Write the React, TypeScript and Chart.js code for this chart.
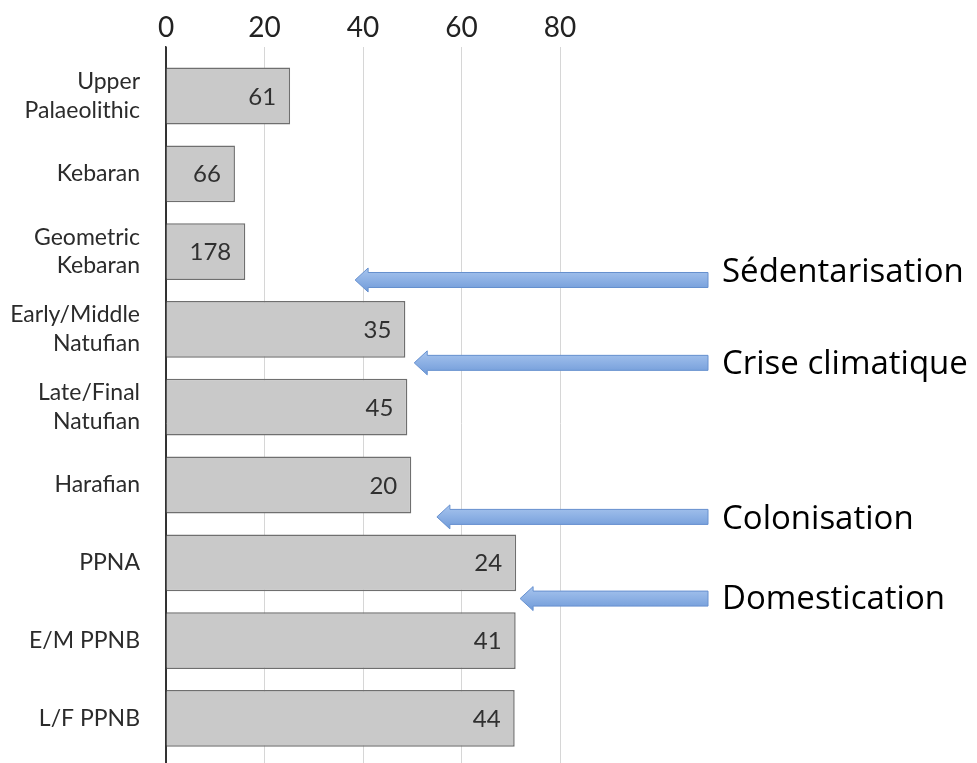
import React, { useEffect, useRef } from "react";
import { Chart, registerables } from "chart.js";

Chart.register(...registerables);

// ---- data ----
const categories: string[][] = [
  ["Upper", "Palaeolithic"],
  ["Kebaran"],
  ["Geometric", "Kebaran"],
  ["Early/Middle", "Natufian"],
  ["Late/Final", "Natufian"],
  ["Harafian"],
  ["PPNA"],
  ["E/M PPNB"],
  ["L/F PPNB"],
];
const values = [25.2, 14.0, 16.1, 48.6, 49.0, 49.8, 71.1, 71.0, 70.8];
const sampleSizes = ["61", "66", "178", "35", "45", "20", "24", "41", "44"];
const xTicks = [0, 20, 40, 60, 80];

const annotationLabels = ["Sédentarisation", "Crise climatique", "Colonisation", "Domestication"];
const arrowTipValues = [38.4, 50.4, 55.0, 71.9];
const arrowRows = [2.365, 3.43, 5.41, 6.46];
const labelRows = [2.243, 3.419, 5.418, 6.446];

// ---- styles ----
const LEFT_FONT = "Lato, 'DejaVu Sans', sans-serif";
const ANNOT_FONT = "'Open Sans', 'DejaVu Sans', sans-serif";
const CANVAS_W = 977;
const CANVAS_H = 800;
const PLOT_TOP = 47;
const PLOT_LEFT = 166;
const PLOT_RIGHT = 560;
const ROW_PX = 77.8;
const FIRST_ROW_PX = 96;
const Y_MIN = -(FIRST_ROW_PX - PLOT_TOP) / ROW_PX;
const Y_MAX = Y_MIN + (CANVAS_H - PLOT_TOP) / ROW_PX;

const barLabelPlugin = {
  id: "barLabels",
  afterDatasetsDraw(chart: any) {
    const ctx = chart.ctx;
    const meta = chart.getDatasetMeta(0);
    ctx.save();
    ctx.font = `24px ${LEFT_FONT}`;
    ctx.fillStyle = "#303030";
    ctx.textAlign = "right";
    ctx.textBaseline = "alphabetic";
    meta.data.forEach((bar: any, i: number) => {
      ctx.fillText(sampleSizes[i], bar.x - 14, bar.y + 8.6);
    });
    ctx.restore();
  },
};

function drawArrow(ctx: CanvasRenderingContext2D, tipX: number, tailX: number, cy: number) {
  const shaftH = 15;
  const headH = 24;
  const headL = 13;
  ctx.beginPath();
  ctx.moveTo(tipX, cy);
  ctx.lineTo(tipX + headL, cy - headH / 2);
  ctx.lineTo(tipX + headL, cy - shaftH / 2);
  ctx.lineTo(tailX, cy - shaftH / 2);
  ctx.lineTo(tailX, cy + shaftH / 2);
  ctx.lineTo(tipX + headL, cy + shaftH / 2);
  ctx.lineTo(tipX + headL, cy + headH / 2);
  ctx.closePath();
  const g = ctx.createLinearGradient(0, cy - headH / 2, 0, cy + headH / 2);
  g.addColorStop(0, "#a8c5ee");
  g.addColorStop(0.5, "#8cb0e4");
  g.addColorStop(1, "#6f9ad8");
  ctx.fillStyle = g;
  ctx.fill();
  ctx.lineWidth = 1;
  ctx.strokeStyle = "#6690cf";
  ctx.stroke();
}

const annotationPlugin = {
  id: "annotations",
  afterDraw(chart: any) {
    const ctx = chart.ctx as CanvasRenderingContext2D;
    const xs = chart.scales.x;
    const ys = chart.scales.y;
    ctx.save();
    annotationLabels.forEach((label, i) => {
      const tip = xs.getPixelForValue(arrowTipValues[i]);
      const cy = ys.getPixelForValue(arrowRows[i]);
      drawArrow(ctx, tip, 708, cy);
      const ty = ys.getPixelForValue(labelRows[i]);
      ctx.font = `33px ${ANNOT_FONT}`;
      ctx.fillStyle = "#000000";
      ctx.textAlign = "left";
      ctx.textBaseline = "alphabetic";
      ctx.fillText(label, 722, ty + 0.357 * 33);
    });
    ctx.restore();
  },
};

export default function App() {
  const ref = useRef<HTMLCanvasElement | null>(null);

  useEffect(() => {
    if (!ref.current) return;
    const chart = new Chart(ref.current, {
      type: "bar",
      data: {
        datasets: [
          {
            data: values.map((v, i) => ({ x: v, y: i })),
            backgroundColor: "#c9c9c9",
            borderColor: "#6f6f6f",
            borderWidth: 1.5,
            categoryPercentage: 1,
            barPercentage: 0.73,
          },
        ],
      },
      options: {
        indexAxis: "y",
        responsive: false,
        animation: false,
        devicePixelRatio: 1,
        layout: { padding: { left: 0, top: 0, bottom: 0, right: CANVAS_W - PLOT_RIGHT } },
        plugins: {
          legend: { display: false },
          tooltip: { enabled: false },
          title: { display: false },
        },
        scales: {
          x: {
            type: "linear",
            position: "top",
            min: 0,
            max: 80,
            offset: false,
            afterFit: (s: any) => {
              s.height = PLOT_TOP;
              s.paddingLeft = 0;
              s.paddingRight = 0;
            },
            afterBuildTicks: (s: any) => {
              s.ticks = xTicks.map((v) => ({ value: v }));
            },
            ticks: {
              font: { family: LEFT_FONT, size: 28 },
              color: "#222222",
              padding: 2,
            },
            grid: {
              color: (c: any) => (c.tick && c.tick.value === 0 ? "#333333" : "#d6d6d6"),
              lineWidth: 1,
              drawTicks: false,
              offset: false,
            },
            border: { display: false },
          },
          y: {
            type: "linear",
            reverse: true,
            min: Y_MIN,
            max: Y_MAX,
            offset: false,
            afterFit: (s: any) => {
              s.width = PLOT_LEFT;
              s.paddingTop = 0;
              s.paddingBottom = 0;
            },
            afterBuildTicks: (s: any) => {
              s.ticks = categories.map((_, i) => ({ value: i }));
            },
            ticks: {
              font: { family: LEFT_FONT, size: 23, lineHeight: 1.25 },
              color: "#2b2b2b",
              padding: 26,
              callback: (v: any) => categories[Number(v)] ?? "",
            },
            grid: { display: false, drawTicks: false, offset: false },
            border: { display: true, color: "#333333", width: 1.5 },
          },
        },
      },
      plugins: [barLabelPlugin, annotationPlugin],
    });
    return () => chart.destroy();
  }, []);

  return (
    <div
      style={{
        position: "fixed",
        left: 0,
        top: 0,
        width: CANVAS_W,
        height: 763,
        overflow: "hidden",
        background: "#ffffff",
      }}
    >
      <canvas
        ref={ref}
        width={CANVAS_W}
        height={CANVAS_H}
        style={{ width: CANVAS_W, height: CANVAS_H, display: "block" }}
      />
    </div>
  );
}
